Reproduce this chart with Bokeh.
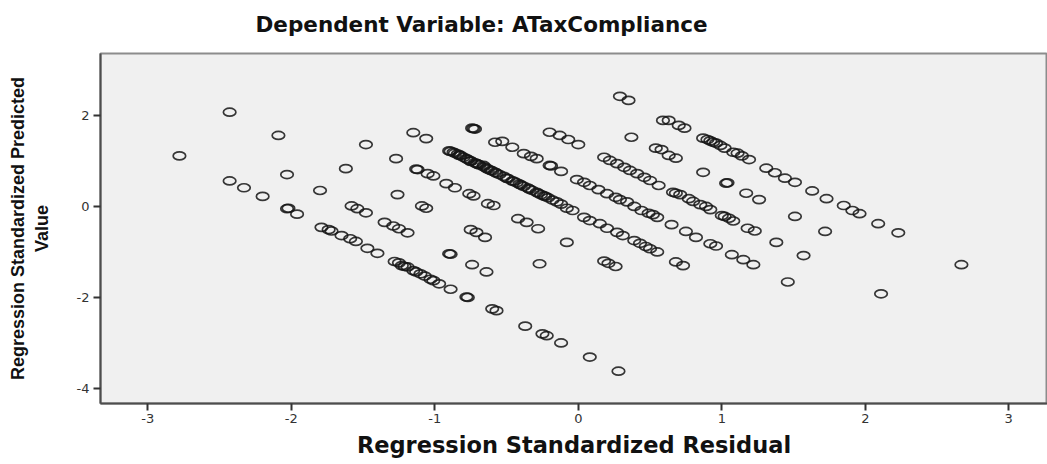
from bokeh.plotting import figure
from bokeh.models import FixedTicker, ColumnDataSource, Title
from bokeh.embed import file_html
from bokeh.resources import INLINE

title_text = "Dependent Variable: ATaxCompliance"
x_label = "Regression Standardized Residual"
y_label = "Regression Standardized Predicted\nValue"

x_ticks = [-3, -2, -1, 0, 1, 2, 3]
x_tick_labels = ["-3", "-2", "-1", "0", "1", "2", "3"]
y_ticks = [-4, -2, 0, 2]
y_tick_labels = ["-4", "-2", "0", "2"]

# Regression standardized residual (x) and standardized predicted value (y)
resid = [
    -2.43, -2.09, -2.78, -2.03, -2.43, -2.33, -2.20, -2.03, -2.02, -1.96, -1.80, -1.79,
    -1.48, -1.62, -1.27, -1.15, -1.06, -0.73, -0.72, -0.74, -0.58,
    -1.12, -1.05, -1.01, -1.13,
    -0.90, -0.87, -0.82, -0.75, -0.71, -0.66, -0.61,
    -0.92, -0.86, -0.76, -0.73, -0.63, -1.26,
    -1.58, -1.54, -1.48, -1.09, -1.06,
    -1.74, -1.72, -1.65, -1.59, -1.55, -1.47, -1.40,
    -1.35, -1.29, -1.25, -1.19,
    -0.75, -0.71, -0.65,
    -0.90, -0.89, -0.74, -0.64,
    -1.28, -1.23, -1.19, -1.15, -1.10, -1.07, -1.01, -0.97, -0.89,
    -1.25, -1.21, -1.13, -1.03,
    -0.78, -0.77, -0.60, -0.57,
    0.29, 0.35, 0.59, -0.20, -0.13, -0.07, 0.00, 0.37, 0.54,
    -0.53, -0.46, -0.38, -0.33, -0.29, -0.20, -0.19, -0.12,
    0.18, 0.27, 0.32, 0.41, 0.50, 0.56, 0.22, 0.36, 0.46,
    -0.01, 0.08, 0.20, 0.34, 0.44, 0.55,
    0.04, 0.14, 0.26, 0.29, 0.39, 0.49, 0.52,
    -0.08, 0.04, 0.15, 0.27, 0.39, 0.50, 0.55,
    -0.04, 0.08, 0.20, 0.31, 0.43, 0.47,
    -0.59, -0.42, -0.36, -0.28, -0.08, -0.27,
    0.18, 0.21, 0.26,
    -0.25, -0.22, -0.37, -0.12, 0.08, 0.28,
    -0.89, -0.86, -0.83, -0.80, -0.78, -0.75, -0.72, -0.69, -0.66, -0.63, -0.60, -0.58, -0.55,
    -0.52, -0.49, -0.46, -0.43, -0.41, -0.38, -0.35, -0.32, -0.29, -0.26, -0.24, -0.21, -0.18,
    -0.84, -0.77, -0.70, -0.64, -0.57, -0.50, -0.45, -0.40, -0.34, -0.28, -0.23, -0.15, -0.12,
    0.63, 0.70, 0.74,
    0.87, 0.94, 0.99, 1.02, 1.08, 1.14, 1.19, 0.90, 0.92, 0.96, 1.11,
    0.58, 0.63, 0.68,
    0.87, 1.03, 1.04, 1.17, 1.26,
    1.31, 1.37, 1.44, 1.51, 1.63, 1.73,
    0.66, 0.71, 0.77, 0.85, 0.92, 1.00, 1.08, 0.68, 0.80, 0.89, 1.02, 1.05,
    1.18, 1.23, 1.51, 1.72, 1.38,
    0.65, 0.75, 0.82, 0.92, 0.96,
    0.68, 0.73, 1.07, 1.15, 1.22, 1.57, 1.46,
    1.85, 1.91, 1.96, 2.09, 2.23, 2.67, 2.11,
]
pred = [
    2.07, 1.56, 1.11, 0.70, 0.56, 0.41, 0.22, -0.05, -0.04, -0.17, 0.35, -0.46,
    1.36, 0.83, 1.05, 1.62, 1.49, 1.71, 1.70, 1.72, 1.41,
    0.81, 0.72, 0.67, 0.82,
    1.22, 1.19, 1.12, 0.99, 0.94, 0.90, 0.79,
    0.50, 0.41, 0.28, 0.23, 0.06, 0.26,
    0.01, -0.05, -0.14, 0.01, -0.04,
    -0.51, -0.54, -0.64, -0.71, -0.77, -0.92, -1.03,
    -0.35, -0.43, -0.49, -0.58,
    -0.51, -0.57, -0.68,
    -1.04, -1.05, -1.28, -1.44,
    -1.21, -1.30, -1.33, -1.41, -1.48, -1.53, -1.63, -1.70, -1.82,
    -1.24, -1.32, -1.44, -1.60,
    -1.99, -2.00, -2.25, -2.29,
    2.42, 2.33, 1.89, 1.63, 1.56, 1.47, 1.36, 1.52, 1.28,
    1.43, 1.30, 1.16, 1.10, 1.05, 0.90, 0.89, 0.77,
    1.08, 0.94, 0.86, 0.72, 0.57, 0.46, 1.01, 0.79, 0.64,
    0.59, 0.46, 0.28, 0.10, -0.09, -0.24,
    0.53, 0.37, 0.20, 0.15, 0.00, -0.15, -0.18,
    -0.04, -0.24, -0.38, -0.57, -0.75, -0.93, -1.00,
    -0.09, -0.31, -0.48, -0.64, -0.81, -0.88,
    0.02, -0.27, -0.35, -0.49, -0.79, -1.26,
    -1.20, -1.25, -1.32,
    -2.80, -2.84, -2.63, -3.00, -3.31, -3.62,
    1.21, 1.17, 1.12, 1.08, 1.05, 1.00, 0.96, 0.91, 0.87, 0.82, 0.78, 0.75, 0.70,
    0.66, 0.61, 0.56, 0.52, 0.49, 0.44, 0.40, 0.35, 0.31, 0.26, 0.23, 0.19, 0.14,
    1.15, 1.03, 0.93, 0.84, 0.73, 0.62, 0.55, 0.47, 0.38, 0.29, 0.22, 0.10, 0.05,
    1.89, 1.78, 1.72,
    1.50, 1.41, 1.34, 1.28, 1.19, 1.11, 1.03, 1.47, 1.44, 1.39, 1.17,
    1.25, 1.12, 1.06,
    0.75, 0.51, 0.52, 0.29, 0.15,
    0.84, 0.74, 0.62, 0.53, 0.34, 0.17,
    0.31, 0.26, 0.17, 0.04, -0.07, -0.20, -0.32, 0.29, 0.11, 0.00, -0.22, -0.26,
    -0.48, -0.54, -0.22, -0.55, -0.79,
    -0.40, -0.55, -0.68, -0.82, -0.87,
    -1.22, -1.30, -1.06, -1.17, -1.28, -1.08, -1.66,
    0.02, -0.09, -0.16, -0.38, -0.58, -1.28, -1.92,
]

src = ColumnDataSource(data=dict(x=resid, y=pred))

p = figure(
    width=1047, height=464,
    output_backend="svg", toolbar_location=None,
    x_range=(-3.33, 3.27), y_range=(-4.33, 3.36),
    min_border_left=100, min_border_right=0, min_border_top=53, min_border_bottom=61,
)
p.background_fill_color = "#f0f0f0"
p.border_fill_color = "white"
p.outline_line_color = "#8c8c8c"
p.outline_line_width = 2
p.xgrid.visible = False
p.ygrid.visible = False

# spacer panel between frame and title (closest to the frame), then the title above it
spacer = Title(text=" ", text_font_size="2px", standoff=13)
p.add_layout(spacer, "above")
main_title = Title(text=title_text, align="left", offset=155, standoff=0,
                   text_font="DejaVu Sans", text_font_style="bold",
                   text_font_size="21.5px", text_color="#111111")
p.add_layout(main_title, "above")

p.ellipse(x="x", y="y", width=12.5, height=8, width_units="screen", height_units="screen",
          fill_color=None, line_color="#151515", line_width=1.7, line_alpha=0.85, source=src)

for ax in (p.xaxis[0], p.yaxis[0]):
    ax.axis_line_color = "#4d4d4d"
    ax.axis_line_width = 2
    ax.major_tick_line_color = "#333333"
    ax.major_tick_line_width = 2
    ax.major_tick_out = 7
    ax.major_tick_in = 0
    ax.minor_tick_line_color = None
    ax.major_label_text_font = "DejaVu Sans"
    ax.major_label_text_font_size = "13px"
    ax.major_label_text_color = "#333333"
    ax.axis_label_text_font_style = "bold"
    ax.axis_label_text_color = "#111111"

p.xaxis.ticker = FixedTicker(ticks=x_ticks)
p.xaxis.major_label_overrides = dict(zip(x_ticks, x_tick_labels))
p.yaxis.ticker = FixedTicker(ticks=y_ticks)
p.yaxis.major_label_overrides = dict(zip(y_ticks, y_tick_labels))

p.xaxis.axis_label = x_label
p.xaxis.axis_label_text_font = "DejaVu Sans"
p.xaxis.axis_label_text_font_size = "22.5px"
p.xaxis.major_label_standoff = 3
p.xaxis.axis_label_standoff = 6

p.yaxis.axis_label = y_label
p.yaxis.axis_label_text_font = "Liberation Sans"
p.yaxis.axis_label_text_font_size = "18px"
p.yaxis.major_label_standoff = 4
p.yaxis.axis_label_standoff = 22

open("out.html", "w").write(file_html(p, INLINE))
